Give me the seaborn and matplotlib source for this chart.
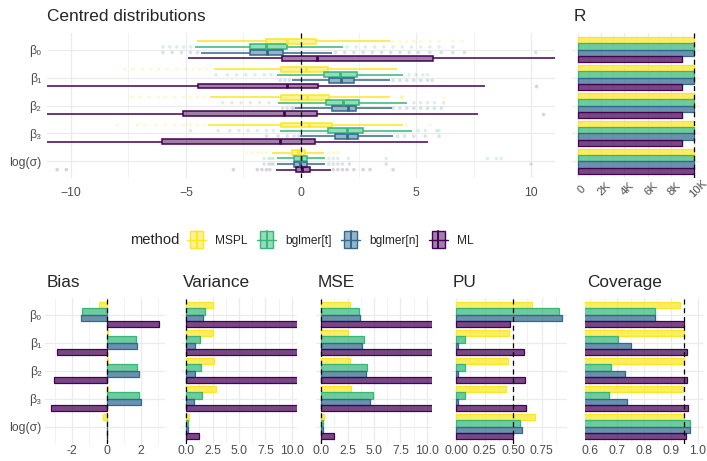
import numpy as np
import pandas as pd
import matplotlib
matplotlib.use("Agg")
import matplotlib.pyplot as plt
import seaborn as sns
from matplotlib.colors import to_rgba
from matplotlib.legend_handler import HandlerBase
from matplotlib.patches import Rectangle
from matplotlib.lines import Line2D
from matplotlib.ticker import FixedLocator, FuncFormatter, FormatStrFormatter

# ---------------- data ----------------
params = ['β₀', 'β₁', 'β₂', 'β₃', 'log(σ)']
methods = ['MSPL', 'bglmer[t]', 'bglmer[n]', 'ML']
colors = ['#FDE725', '#35B779', '#31688E', '#440154']

# box statistics per parameter: (lower whisker, q1, median, q3, upper whisker)
box_mspl = [(-4.53, -1.53, -0.62, 0.65, 3.87), (-3.8, -0.87, 0.22, 1.19, 4.16),
            (-3.96, -0.87, 0.25, 1.23, 3.87), (-4.04, -0.87, 0.35, 1.33, 4.45),
            (-1.25, -0.4, -0.12, 0.17, 1.0)]
box_t = [(-4.6, -2.22, -1.5, -0.6, 1.83), (-1.06, 1.01, 1.7, 2.42, 4.43),
         (-1.0, 1.09, 1.84, 2.54, 4.59), (-0.9, 1.19, 1.99, 2.68, 4.81),
         (-1.05, -0.29, -0.02, 0.25, 1.05)]
box_n = [(-4.35, -2.22, -1.49, -0.78, 1.35), (-0.4, 1.23, 1.72, 2.32, 3.87),
         (-0.25, 1.33, 2.06, 2.39, 3.94), (-0.03, 1.48, 2.0, 2.49, 4.0),
         (-1.05, -0.29, -0.03, 0.25, 1.05)]
box_ml = [(-4.9, -0.84, 0.68, 5.74, 12.0), (-12.0, -4.46, -0.62, 0.72, 8.0),
          (-12.0, -5.14, -0.72, 0.68, 7.7), (-12.0, -6.06, -0.91, 0.62, 5.54),
          (-1.1, -0.22, 0.05, 0.39, 1.3)]

# outlying points per parameter
fl_mspl = [[4.0, 4.3, 4.6, 4.9, 5.2, 5.6, 6.0, 6.6, 7.0],
           [-7.65, -7.3, -6.9, -6.5, -6.2, -5.8, -5.4, -5.0, -4.7, -4.4, -4.1],
           [-7.36, -7.0, -6.6, -6.2, -5.9, -5.5, -5.1, -4.8, -4.5, -4.2, 4.38, 4.38, 4.38, 6.2],
           [-8.0, -7.1, -6.8, -6.3, -5.9, -5.5, -5.1, -4.8, -4.5, -4.2, 4.6, 5.6],
           [-2.36, -2.1, -1.9, -1.7, -1.5, 1.2, 1.4, 1.6]]
fl_t = [[-6.0, -5.7, -5.4, -5.1, -4.8, 2.0, 2.4, 2.8, 3.2, 3.6, 4.0, 4.4, 4.8, 5.2, 5.6, 6.0, 6.6],
        [-3.7, -3.2, -2.8, -2.4, -2.0, -1.6, -1.3, 4.7, 5.0, 5.3, 5.5],
        [-3.4, -3.0, -2.6, -2.2, -1.8, -1.4, 4.9, 5.2, 5.5, 5.8, 6.2],
        [-4.8, -3.6, -3.1, -2.7, -2.3, -1.9, -1.5, -1.2, 5.1, 5.4, 5.9, 6.0],
        [-1.6, -1.4, -1.3, -1.2, 1.2, 1.4, 1.6, 2.06, 3.7, 8.1, 8.5, 8.7]]
fl_n = [[-6.0, -5.6, -5.2, -4.8, -4.5, 1.5, 1.9, 2.3, 2.7, 3.1, 3.5, 3.9, 4.3, 4.7, 5.1, 5.6, 6.1, 6.6, 7.1, 10.2],
        [-0.9, -0.7, -0.5, 4.0, 4.3, 4.6, 4.9, 5.2, 5.5, 5.7],
        [-0.8, -0.6, -0.4, -0.3, 4.0, 4.3, 4.6, 4.9, 5.2, 5.5, 5.8, 6.1],
        [-1.5, -1.0, -0.6, -0.3, -0.1, 4.2, 4.5, 4.9, 5.4, 6.0],
        [-1.6, -1.4, -1.3, -1.2, 1.2, 1.4, 1.6, 1.8, 2.1, 3.7, 10.0]]
fl_ml = [[], [10.2], [10.5], [],
         [-10.6, -10.2, -2.94, -1.9, -1.7, -1.5, -1.35, 1.4, 1.6, 1.8, 2.0, 2.3, 2.7, 3.0, 4.0]]

# number of replications (R)
r_count = [[10000, 10000, 10000, 10000, 10000],
           [10000, 10000, 10000, 10000, 10000],
           [10000, 10000, 10000, 10000, 10000],
           [8960, 8960, 8960, 8960, 10000]]
bias = [[-0.43, 0.07, 0.08, 0.1, -0.2],
        [-1.42, 1.69, 1.77, 1.88, 0.01],
        [-1.51, 1.79, 1.88, 1.98, 0.01],
        [3.07, -2.91, -3.05, -3.26, 0.05]]
variance = [[2.52, 2.52, 2.67, 2.83, 0.22],
            [1.82, 1.26, 1.35, 1.48, 0.17],
            [1.6, 0.79, 0.79, 0.69, 0.17],
            [33.0, 41.0, 45.0, 52.0, 1.2]]
mse = [[2.68, 2.52, 2.68, 2.81, 0.25],
       [3.61, 4.03, 4.35, 4.87, 0.17],
       [3.68, 3.9, 4.23, 4.61, 0.17],
       [43.0, 49.0, 54.0, 62.0, 1.2]]
pu = [[0.667, 0.462, 0.453, 0.436, 0.69],
      [0.9, 0.073, 0.073, 0.073, 0.558],
      [0.927, 0.015, 0.015, 0.015, 0.576],
      [0.47, 0.594, 0.6, 0.617, 0.503]]
coverage = [[0.933, 0.951, 0.948, 0.947, 0.948],
            [0.841, 0.704, 0.678, 0.671, 0.972],
            [0.841, 0.752, 0.728, 0.735, 0.973],
            [0.948, 0.961, 0.961, 0.963, 0.958]]

# ---------------- setup ----------------
sns.set_theme(style="white")
plt.rcParams['font.family'] = ['Liberation Sans', 'DejaVu Sans']
palette = dict(zip(methods, colors))
GRID = '#EBEBEB'
TXT = '#4D4D4D'

W, H = 707, 461
fig = plt.figure(figsize=(W / 100, H / 100), dpi=100)


def add_ax(l, t, r, b):
    return fig.add_axes([l / W, 1 - b / H, (r - l) / W, (b - t) / H])


def long_df(table):
    rows = []
    for m, vals in zip(methods, table):
        for p, v in zip(params, vals):
            rows.append((m, p, v))
    return pd.DataFrame(rows, columns=['method', 'param', 'value'])


def style(ax, xlim, major, minor, show_y, fmt=None, ypad=2.4, xpad=1.3, xsize=8.8):
    ax.set_xlim(*xlim)
    ax.set_ylim(4.6, -0.6)
    ax.xaxis.set_major_locator(FixedLocator(major))
    ax.xaxis.set_minor_locator(FixedLocator(minor))
    if fmt is not None:
        ax.xaxis.set_major_formatter(fmt)
    ax.set_yticks(range(5))
    ax.grid(True, which='major', color=GRID, lw=0.9)
    ax.grid(True, which='minor', axis='x', color=GRID, lw=0.45)
    ax.set_axisbelow(True)
    for s in ax.spines.values():
        s.set_visible(False)
    ax.tick_params(which='both', length=0, labelsize=8.8, labelcolor=TXT)
    ax.tick_params(axis='y', pad=ypad)
    ax.tick_params(axis='x', pad=xpad, labelsize=xsize)
    ax.set_xlabel('')
    ax.set_ylabel('')
    if show_y:
        ax.set_yticklabels(params)
    else:
        ax.set_yticklabels([])


def bars(ax, table, ref):
    df = long_df(table)
    sns.barplot(data=df, x='value', y='param', hue='method', hue_order=methods, order=params,
                palette=palette, orient='h', width=0.9, errorbar=None, saturation=1,
                legend=False, linewidth=0.9, ax=ax)
    for p in ax.patches:
        fc = p.get_facecolor()
        p.set_edgecolor(fc[:3] + (1.0,))
        p.set_facecolor(fc[:3] + (0.72,))
    ax.axvline(ref, color='black', ls=(0, (4, 3)), lw=0.9, zorder=10)


# ---------------- centred distributions ----------------
box_tables = [box_mspl, box_t, box_n, box_ml]
fl_tables = [fl_mspl, fl_t, fl_n, fl_ml]
rows = []
for m, tab in zip(methods, box_tables):
    for p, stats in zip(params, tab):
        for v in stats:
            rows.append((m, p, v))
box_df = pd.DataFrame(rows, columns=['method', 'param', 'value'])
rows = []
for m, tab in zip(methods, fl_tables):
    for p, pts in zip(params, tab):
        for v in pts:
            rows.append((m, p, v))
fl_df = pd.DataFrame(rows, columns=['method', 'param', 'value'])

ax = add_ax(47, 33, 555, 178)
sns.stripplot(data=fl_df, x='value', y='param', hue='method', hue_order=methods, order=params,
              palette=palette, dodge=True, jitter=False, size=2.6, alpha=0.18, linewidth=0,
              legend=False, ax=ax)
for m, c in zip(methods, colors):
    sub = box_df[box_df.method == m]
    n0 = len(ax.patches)
    sns.boxplot(data=sub, x='value', y='param', hue='method', hue_order=methods, order=params,
                palette=palette, orient='h', dodge=True, whis=(0, 100), width=0.8, gap=0.12,
                saturation=1, showfliers=False, showcaps=False, linecolor=c, linewidth=1.1,
                medianprops=dict(linewidth=2.0), legend=False, ax=ax)
    for p in ax.patches[n0:]:
        p.set_facecolor(to_rgba(c, 0.5))
        p.set_edgecolor(c)
ax.axvline(0, color='black', ls=(0, (4, 3)), lw=0.9, zorder=10)
style(ax, (-11.04, 11.04), [-10, -5, 0, 5, 10], [-7.5, -2.5, 2.5, 7.5], True,
      ypad=4.3, xpad=6.5)
fig.text(47 / W, 1 - 20.7 / H, 'Centred distributions', fontsize=12.4, va='baseline', ha='left')

# ---------------- R ----------------
axR = add_ax(572, 33, 700, 178)
bars(axR, r_count, 10000)
style(axR, (-500, 10500), [0, 2000, 4000, 6000, 8000, 10000],
      [1000, 3000, 5000, 7000, 9000], False,
      fmt=FuncFormatter(lambda v, p: '0' if v == 0 else f'{int(round(v / 1000))}K'),
      xpad=5.5, xsize=8.2)
plt.setp(axR.get_xticklabels(), rotation=45, ha='center', va='top', rotation_mode='anchor')
fig.text(574 / W, 1 - 20.7 / H, 'R', fontsize=12.4, va='baseline', ha='left')

# ---------------- legend ----------------
class BoxHandler(HandlerBase):
    def create_artists(self, legend, orig_handle, xdescent, ydescent, width, height,
                       fontsize, trans):
        c = orig_handle.get_edgecolor()
        x0, y0 = -xdescent, -ydescent
        h = 17 * 72 / 100.0
        yb = y0 + height / 2 - h / 2
        wl = Line2D([x0, x0 + width], [y0 + height / 2] * 2, color=c, lw=1.0, transform=trans)
        bw = width * 0.68
        r = Rectangle((x0 + (width - bw) / 2, yb), bw, h, facecolor=to_rgba(c, 0.5),
                      edgecolor=c, lw=1.0, transform=trans)
        md = Line2D([x0 + width / 2] * 2, [yb, yb + h], color=c, lw=1.4, transform=trans)
        return [wl, r, md]


handles = [Rectangle((0, 0), 1, 1, edgecolor=c, facecolor=c) for c in colors]
fig.legend(handles, methods, handler_map={Rectangle: BoxHandler()}, loc='center left',
           bbox_to_anchor=(187 / W, 1 - 240 / H), ncol=4, frameon=False, fontsize=8.6,
           handlelength=1.6, handleheight=1.45, handletextpad=0.75, columnspacing=0.8,
           borderpad=0, borderaxespad=0)
fig.text(130 / W, 1 - 240 / H, 'method', fontsize=10.6, va='center', ha='left')

# ---------------- bottom panels ----------------
top, bot = 298, 443.5
axB = add_ax(45, top, 165, bot)
bars(axB, bias, 0)
style(axB, (-3.58, 3.39), [-2, 0, 2], [-3, -1, 1, 3], True, fmt=FormatStrFormatter('%g'))

axV = add_ax(181, top, 297, bot)
bars(axV, variance, 0)
style(axV, (-0.5, 10.5), [0, 2.5, 5, 7.5, 10], [1.25, 3.75, 6.25, 8.75], False,
      fmt=FormatStrFormatter('%.1f'))

axM = add_ax(316, top, 432, bot)
bars(axM, mse, 0)
style(axM, (-0.5, 10.5), [0, 2.5, 5, 7.5, 10], [1.25, 3.75, 6.25, 8.75], False,
      fmt=FormatStrFormatter('%.1f'))

axP = add_ax(451, top, 567, bot)
bars(axP, pu, 0.5)
style(axP, (-0.046, 0.973), [0, 0.25, 0.5, 0.75], [0.125, 0.375, 0.625, 0.875], False,
      fmt=FormatStrFormatter('%.2f'))

axC = add_ax(585, top, 703, bot)
bars(axC, coverage, 0.95)
style(axC, (0.58, 1.02), [0.6, 0.7, 0.8, 0.9, 1.0], [0.65, 0.75, 0.85, 0.95], False,
      fmt=FormatStrFormatter('%.1f'))

for a, t in zip([axB, axV, axM, axP, axC], ['Bias', 'Variance', 'MSE', 'PU', 'Coverage']):
    x0 = a.get_position().x0
    fig.text(x0 + 2 / W, 1 - 286.7 / H, t, fontsize=12.4, va='baseline', ha='left')

fig.savefig('out.png', dpi=100)
